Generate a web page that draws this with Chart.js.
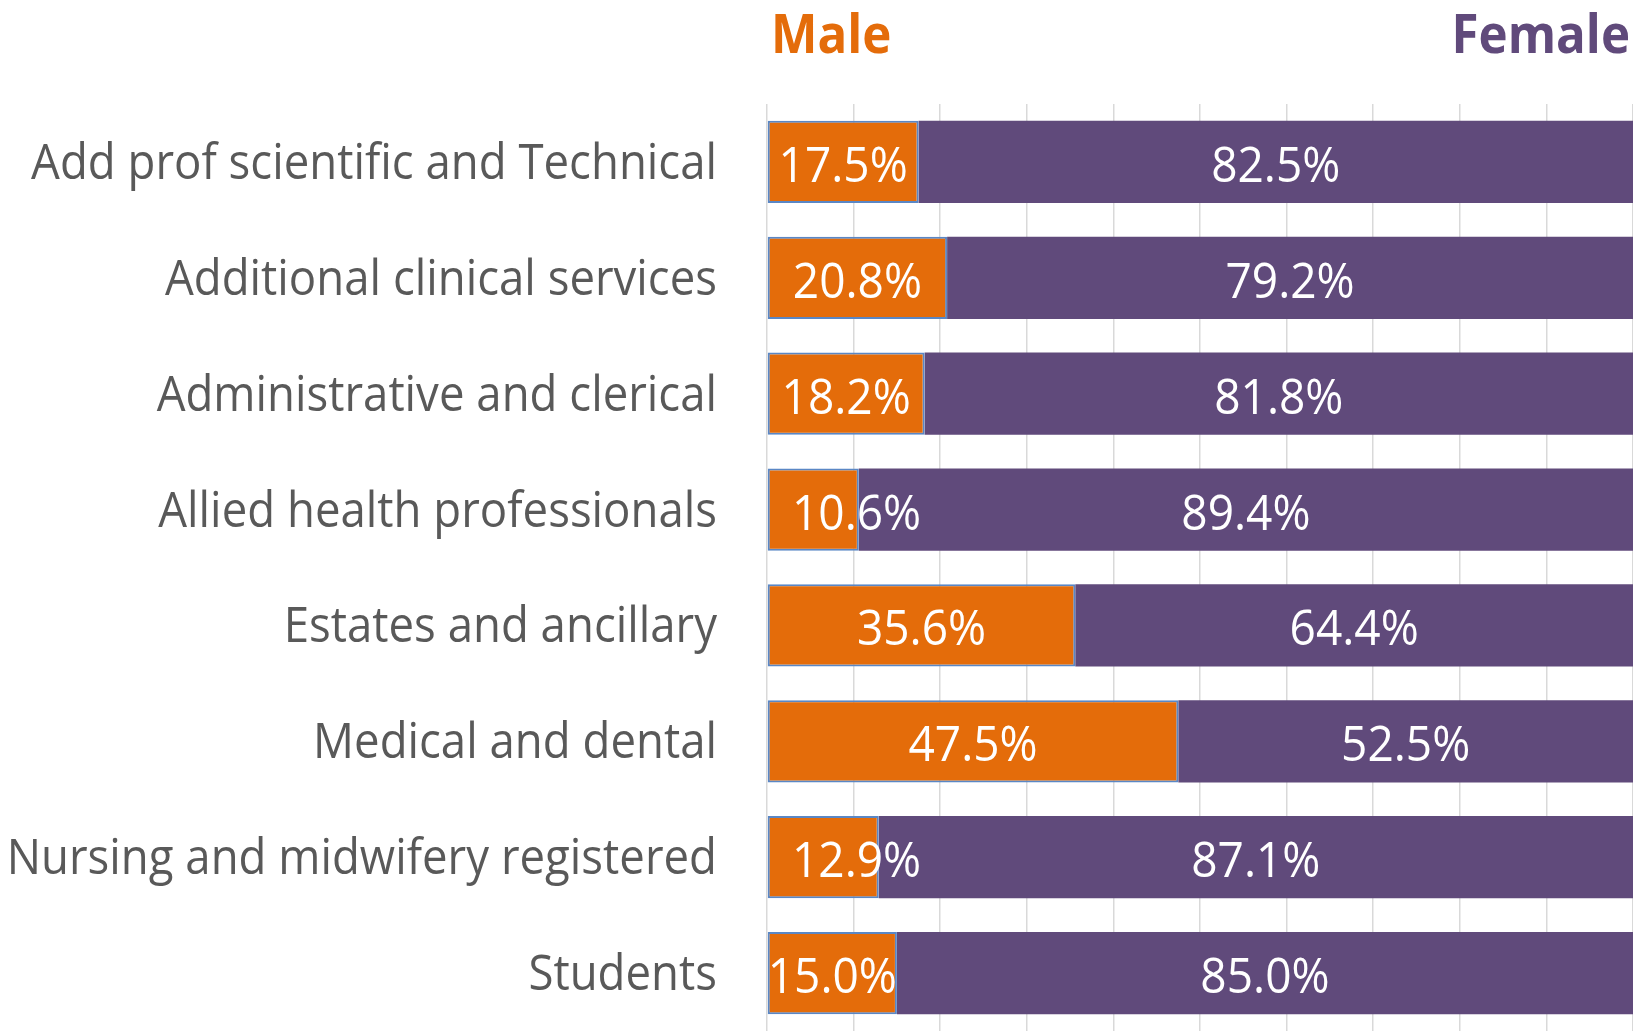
<!DOCTYPE html>
<html lang="en">
  <head>
    <meta charset="utf-8" />
    <title>Staff group by gender</title>
    <style>
      * {
        margin: 0;
        padding: 0;
      }
      body {
        background: #ffffff;
      }
      .chartBox {
        width: 1633px;
        height: 1031px;
      }
    </style>
  </head>
  <body>
    <div class="chartBox">
      <canvas id="myChart"></canvas>
    </div>

    <script src="https://cdn.jsdelivr.net/npm/chart.js"></script>

    <script>
      // data
      const categories = [
        "Add prof scientific and Technical",
        "Additional clinical services",
        "Administrative and clerical",
        "Allied health professionals",
        "Estates and ancillary",
        "Medical and dental",
        "Nursing and midwifery registered",
        "Students",
      ];
      const maleShare = [17.5, 20.8, 18.2, 10.6, 35.6, 47.5, 12.9, 15.0];
      const femaleShare = [82.5, 79.2, 81.8, 89.4, 64.4, 52.5, 87.1, 85.0];

      const maleColor = "#E46C0A";
      const femaleColor = "#604A7B";

      // draws text squeezed horizontally (the source text is narrow and tall)
      function squashedText(ctx, text, x, y, sx) {
        ctx.save();
        ctx.translate(x, y);
        ctx.scale(sx, 1);
        ctx.fillText(text, 0, 0);
        ctx.restore();
      }

      // labels plugin: category names, values inside bars, series titles
      const barText = {
        id: "barText",
        afterDatasetsDraw(chart) {
          const {
            ctx,
            chartArea: { left, right },
            scales: { y },
          } = chart;
          ctx.save();

          // category names on the left
          ctx.font = "49px 'Open Sans'";
          ctx.fillStyle = "#595959";
          ctx.textAlign = "right";
          ctx.textBaseline = "alphabetic";
          categories.forEach((label, i) => {
            squashedText(ctx, label, left - 50, y.getPixelForValue(i) + 17, 0.93);
          });

          // values inside the bars
          const valueScale = 0.94;
          ctx.font = "49px 'Open Sans'";
          ctx.fillStyle = "#ffffff";
          ctx.textAlign = "left";
          chart.data.datasets.forEach((ds, di) => {
            chart.getDatasetMeta(di).data.forEach((bar, i) => {
              const p = bar.getProps(["x", "y", "base"], true);
              const text = ds.data[i].toFixed(1) + "%";
              const w = ctx.measureText(text).width * valueScale;
              let tx = (p.x + p.base) / 2 - w / 2;
              // narrow bars: push the label in from the axis
              if (tx < left) tx = left + 25;
              squashedText(ctx, text, tx, p.y + 20, valueScale);
            });
          });

          // series titles on top
          ctx.font = "bold 53px 'Open Sans'";
          ctx.fillStyle = maleColor;
          ctx.textAlign = "left";
          squashedText(ctx, chart.data.datasets[0].label, left + 4, 53, 0.93);
          ctx.fillStyle = femaleColor;
          ctx.textAlign = "right";
          squashedText(ctx, chart.data.datasets[1].label, right - 3, 53, 0.93);

          ctx.restore();
        },
      };

      const data = {
        labels: categories,
        datasets: [
          {
            label: "Male",
            data: maleShare,
            backgroundColor: maleColor,
            borderColor: "#5A87C5",
            borderWidth: 2,
            borderSkipped: false,
            barPercentage: 0.71,
            categoryPercentage: 1,
          },
          {
            label: "Female",
            data: femaleShare,
            backgroundColor: femaleColor,
            borderWidth: 0,
            barPercentage: 0.71,
            categoryPercentage: 1,
          },
        ],
      };

      const config = {
        type: "bar",
        data: data,
        options: {
          indexAxis: "y",
          responsive: true,
          maintainAspectRatio: false,
          animation: false,
          layout: {
            padding: { top: 104, right: 0, bottom: 0, left: 0 },
          },
          plugins: {
            legend: { display: false },
            tooltip: { enabled: false },
          },
          scales: {
            x: {
              stacked: true,
              min: 0,
              max: 100,
              grid: {
                color: "#D9D9D9",
                lineWidth: 1.5,
                drawTicks: false,
              },
              border: { display: false },
              ticks: { display: false, stepSize: 10 },
            },
            y: {
              stacked: true,
              grid: { display: false, drawTicks: false },
              border: { display: false },
              ticks: { display: false },
              afterFit(scale) {
                // room for the category names
                scale.width = 767;
              },
            },
          },
        },
        plugins: [barText],
      };

      const myChart = new Chart(document.getElementById("myChart"), config);
    </script>
  </body>
</html>
